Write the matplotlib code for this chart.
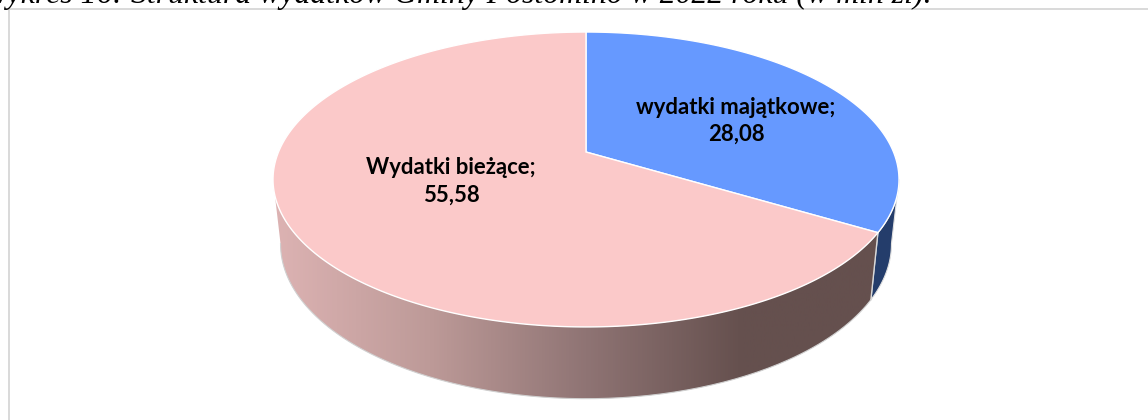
#!/usr/bin/env python3
import numpy as np
import matplotlib
matplotlib.use("Agg")
import matplotlib.pyplot as plt
from matplotlib.colors import LinearSegmentedColormap
from matplotlib.patches import Polygon

title = "Wykres 16: Struktura wydatków Gminy Postomino w 2022 roku (w mln zł)."
labels = ["wydatki majątkowe", "Wydatki bieżące"]
values = [28.08, 55.58]
top_colors = ["#6699FF", "#FBC9C9"]
blue_wall = "#243D6B"
wall_x = [0.0, 0.25, 0.5, 0.75, 1.0]
wall_colors = ["#DDB3B3", "#BD9A98", "#8F7474", "#65504E", "#65504E"]

W, H = 1148, 420

# perspective ellipse, pixels of the target image
CX, CY = 586, 152
K = 307.5
YA, YC = -114.0, 0.1864


def top_xy(a):
    # a is clockwise from 12 o'clock, radians
    u, v = np.sin(a), np.cos(a)
    d = YC * v + 1
    return CX + K * u / d, (YA * v + CY) / d


def bottom_xy(a):
    x, y = top_xy(a)
    return CX + (x - CX) * 0.976, 215 + (y - CY) * 1.05


def arc(func, a0, a1, n=200):
    x, y = func(np.linspace(a0, a1, n))
    return np.column_stack([x, y])


fig = plt.figure(figsize=(W / 100, H / 100), dpi=100)
ax = fig.add_axes([0, 0, 1, 1])
ax.set_xlim(0, W)
ax.set_ylim(H, 0)
ax.axis("off")

# frame of the chart area
ax.plot([8.5, 8.5, W], [H, 9, 9], color="#D9D9D9", lw=1.4, solid_joinstyle="miter")

# title, cut off by the image edge like in the scan
ax.text(932, 2.5, title, ha="right", va="baseline", family="Liberation Serif",
        style="italic", fontsize=22.9, color="black")

split = 2 * np.pi * values[0] / sum(values)

# angles where the top ellipse reaches its left/right extremes
dense = np.linspace(0, 2 * np.pi, 2000)
xs, _ = top_xy(dense)
right_a = dense[np.argmax(xs)]
left_a = dense[np.argmin(xs)]

# side walls
pts = np.vstack([arc(top_xy, right_a, split), arc(bottom_xy, split, right_a)])
ax.add_patch(Polygon(pts, closed=True, fc=blue_wall, ec="#E0E0E0", lw=0.8, zorder=2))

pts = np.vstack([arc(top_xy, split, left_a), arc(bottom_xy, left_a, split)])
wall = Polygon(pts, closed=True, fc="none", ec="none", zorder=2)
ax.add_patch(wall)
cmap = LinearSegmentedColormap.from_list("wall", list(zip(wall_x, wall_colors)))
grad = np.linspace(0, 1, 512).reshape(1, -1)
im = ax.imshow(grad, extent=[273, 899, H, 0], cmap=cmap, aspect="auto", zorder=2)
im.set_clip_path(wall)
ax.set_xlim(0, W)
ax.set_ylim(H, 0)
edge = arc(bottom_xy, left_a, split)
ax.plot(edge[:, 0], edge[:, 1], color="#D0D0D0", lw=0.8, zorder=3)
xb, yb = top_xy(split)
xe, ye = bottom_xy(split)
ax.plot([xb, xe], [yb, ye], color="#D8D8D8", lw=1.0, zorder=3)

# top faces
slices = [(0, split), (split, 2 * np.pi)]
for (a0, a1), c in zip(slices, top_colors):
    pts = np.vstack([[CX, CY], arc(top_xy, a0, a1, 300)])
    ax.add_patch(Polygon(pts, closed=True, fc=c, ec="white", lw=1.0, zorder=4))

label_pos = [(736, 107, 134), (451, 167, 195)]
for name, val, (x, y1, y2) in zip(labels, values, label_pos):
    for y, s in [(y1, name + ";"), (y2, f"{val:.2f}".replace(".", ","))]:
        ax.text(x, y, s, ha="center", va="center", family="Lato",
                fontweight="bold", fontsize=15.9, color="black", zorder=5)

fig.savefig("out.png", dpi=100)
